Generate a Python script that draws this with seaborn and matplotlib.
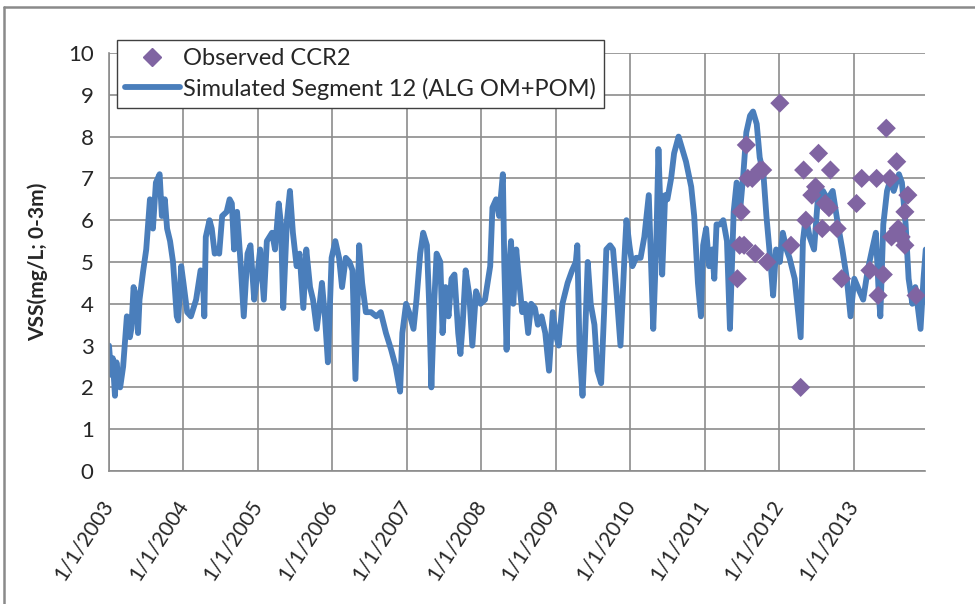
import pandas as pd
import matplotlib
matplotlib.use("Agg")
import matplotlib.pyplot as plt
from matplotlib.lines import Line2D
import seaborn as sns

# Simulated VSS, segment 12 (decimal year, mg/L)
sim_year = [
    2003.00, 2003.03, 2003.05, 2003.08, 2003.10, 2003.13, 2003.15, 2003.19, 2003.24, 2003.28,
    2003.30, 2003.33, 2003.36, 2003.39, 2003.41, 2003.46, 2003.50, 2003.55, 2003.57, 2003.59,
    2003.63, 2003.68, 2003.71, 2003.75, 2003.78, 2003.82, 2003.86, 2003.91, 2003.93, 2003.97,
    2004.00, 2004.05, 2004.10, 2004.17, 2004.23, 2004.26, 2004.28, 2004.30, 2004.35, 2004.38,
    2004.42, 2004.45, 2004.48, 2004.52, 2004.58, 2004.62, 2004.65, 2004.68, 2004.72, 2004.77,
    2004.81, 2004.86, 2004.90, 2004.95,
    2005.00, 2005.03, 2005.08, 2005.12, 2005.19, 2005.23, 2005.28, 2005.31, 2005.34, 2005.39,
    2005.43, 2005.47, 2005.52, 2005.56, 2005.61, 2005.65, 2005.70, 2005.74, 2005.79, 2005.83,
    2005.86, 2005.90, 2005.94, 2005.99, 2006.04, 2006.09, 2006.13, 2006.18, 2006.23, 2006.27,
    2006.31, 2006.36, 2006.40, 2006.45, 2006.52, 2006.59, 2006.65, 2006.72, 2006.79, 2006.85,
    2006.91, 2006.94, 2006.99,
    2007.03, 2007.09, 2007.13, 2007.18, 2007.22, 2007.27, 2007.30, 2007.33, 2007.37, 2007.40,
    2007.45, 2007.48, 2007.52, 2007.56, 2007.60, 2007.64, 2007.69, 2007.72, 2007.75, 2007.79,
    2007.84, 2007.88, 2007.93, 2007.99, 2008.05, 2008.12, 2008.15, 2008.20, 2008.24, 2008.29,
    2008.31, 2008.34, 2008.37, 2008.40, 2008.43, 2008.47, 2008.50, 2008.55, 2008.59, 2008.63,
    2008.67, 2008.72, 2008.76, 2008.81, 2008.86, 2008.91, 2008.96,
    2009.01, 2009.04, 2009.09, 2009.16, 2009.22, 2009.27, 2009.29, 2009.32, 2009.36, 2009.39,
    2009.43, 2009.47, 2009.52, 2009.56, 2009.61, 2009.65, 2009.68, 2009.73, 2009.77, 2009.82,
    2009.87, 2009.92, 2009.95, 2009.99, 2010.03, 2010.08, 2010.14, 2010.19, 2010.25, 2010.28,
    2010.31, 2010.35, 2010.38, 2010.40, 2010.43, 2010.47, 2010.50, 2010.55, 2010.59, 2010.65,
    2010.70, 2010.75, 2010.82, 2010.86, 2010.91, 2010.95, 2010.98, 2011.02, 2011.06,
    2011.10, 2011.13, 2011.16, 2011.21, 2011.25, 2011.30, 2011.34, 2011.39, 2011.43, 2011.48,
    2011.52, 2011.56, 2011.61, 2011.65, 2011.70, 2011.74, 2011.79, 2011.83, 2011.88, 2011.92,
    2011.96, 2012.01, 2012.05, 2012.10, 2012.14, 2012.21, 2012.25, 2012.29, 2012.32, 2012.36,
    2012.41, 2012.47, 2012.52, 2012.59, 2012.65, 2012.72, 2012.79, 2012.85, 2012.91, 2012.96,
    2013.01, 2013.08, 2013.13, 2013.19, 2013.25, 2013.30, 2013.34, 2013.36, 2013.40, 2013.45,
    2013.50, 2013.54, 2013.61, 2013.65, 2013.70, 2013.74, 2013.79, 2013.83, 2013.90, 2013.94,
    2013.97,
]
sim_vss = [
    3.0, 2.3, 2.7, 1.8, 2.6, 2.1, 2.0, 2.5, 3.7, 3.2,
    3.4, 4.4, 4.2, 3.3, 4.1, 4.8, 5.3, 6.5, 6.0, 5.8,
    6.9, 7.1, 6.1, 6.5, 5.8, 5.5, 5.0, 3.7, 3.6, 4.9,
    4.5, 3.8, 3.7, 4.1, 4.8, 4.7, 3.7, 5.6, 6.0, 5.8,
    5.2, 5.3, 5.2, 6.1, 6.2, 6.5, 6.4, 5.3, 6.2, 4.9,
    3.7, 5.2, 5.4, 4.1,
    4.8, 5.3, 4.1, 5.5, 5.7, 5.3, 6.4, 5.9, 3.9, 6.0,
    6.7, 5.7, 4.9, 5.2, 3.9, 5.3, 4.4, 4.1, 3.4, 4.0,
    4.5, 3.7, 2.6, 5.1, 5.5, 5.1, 4.4, 5.1, 5.0, 4.8,
    2.2, 5.4, 4.5, 3.8, 3.8, 3.7, 3.8, 3.3, 2.9, 2.5,
    1.9, 3.3, 4.0,
    3.8, 3.4, 4.1, 5.2, 5.7, 5.4, 4.0, 2.0, 4.1, 5.2,
    5.0, 3.3, 4.4, 3.7, 4.6, 4.7, 3.3, 2.8, 3.5, 4.8,
    4.2, 3.0, 4.3, 4.0, 4.1, 4.9, 6.3, 6.5, 6.1, 7.1,
    4.9, 2.9, 4.8, 5.5, 4.0, 5.3, 4.7, 3.8, 4.0, 3.3,
    4.0, 3.9, 3.5, 3.7, 3.3, 2.4, 3.8,
    3.2, 3.0, 4.0, 4.5, 4.8, 5.0, 5.4, 2.9, 1.8, 3.0,
    5.0, 4.0, 3.5, 2.4, 2.1, 3.8, 5.3, 5.4, 5.3, 4.2,
    3.0, 5.0, 6.0, 5.4, 4.9, 5.1, 5.1, 5.6, 6.6, 5.0,
    3.4, 5.4, 7.7, 6.6, 4.7, 6.6, 6.5, 7.0, 7.6, 8.0,
    7.7, 7.4, 6.8, 6.1, 4.5, 3.7, 5.4, 5.8, 4.9,
    5.3, 4.6, 5.9, 5.9, 6.0, 5.5, 3.4, 6.2, 6.9, 6.3,
    7.1, 8.1, 8.5, 8.6, 8.3, 7.5, 7.1, 6.1, 5.1, 4.2,
    5.3, 5.0, 5.7, 5.3, 5.1, 4.6, 3.9, 3.2, 5.5, 6.1,
    5.6, 5.3, 6.5, 6.7, 6.5, 6.7, 5.9, 5.3, 4.6, 3.7,
    4.6, 4.3, 4.1, 4.8, 5.3, 5.7, 4.2, 3.7, 5.9, 6.7,
    7.0, 6.7, 7.1, 6.9, 5.9, 4.6, 4.0, 4.4, 3.4, 4.6,
    5.3,
]

# Observed CCR2
obs_year = [
    2011.44, 2011.47, 2011.49, 2011.53, 2011.56, 2011.58, 2011.64, 2011.68, 2011.74, 2011.78,
    2011.84, 2012.01, 2012.16, 2012.29, 2012.33, 2012.36, 2012.44, 2012.49, 2012.53, 2012.58,
    2012.62, 2012.67, 2012.69, 2012.78, 2012.84, 2013.04, 2013.11, 2013.22, 2013.31, 2013.33,
    2013.40, 2013.44, 2013.49, 2013.51, 2013.58, 2013.60, 2013.64, 2013.69, 2013.69, 2013.73,
    2013.84,
]
obs_vss = [
    4.6, 5.4, 6.2, 5.4, 7.8, 7.0, 7.0, 5.2, 7.2, 7.2,
    5.0, 8.8, 5.4, 2.0, 7.2, 6.0, 6.6, 6.8, 7.6, 5.8,
    6.4, 6.3, 7.2, 5.8, 4.6, 6.4, 7.0, 4.8, 7.0, 4.2,
    4.7, 8.2, 7.0, 5.6, 7.4, 5.8, 5.6, 6.2, 5.4, 6.6,
    4.2,
]

tick_years = [2003, 2004, 2005, 2006, 2007, 2008, 2009, 2010, 2011, 2012, 2013]
tick_labels = ["1/1/2003", "1/1/2004", "1/1/2005", "1/1/2006", "1/1/2007", "1/1/2008",
               "1/1/2009", "1/1/2010", "1/1/2011", "1/1/2012", "1/1/2013"]

BLUE = "#4A7EBB"
PURPLE = "#8064A2"
GRID = "#8c8c8c"

sns.set_style("white")
plt.rcParams["font.family"] = ["Lato", "DejaVu Sans"]

sim = pd.DataFrame({"year": sim_year, "vss": sim_vss})
obs = pd.DataFrame({"year": obs_year, "vss": obs_vss})

fig = plt.figure(figsize=(9.75, 6.04), dpi=100)
ax = fig.add_axes([109 / 975, 1 - 471 / 604, 816 / 975, 418 / 604])

sns.lineplot(data=sim, x="year", y="vss", ax=ax, color=BLUE, lw=4.2, sort=False,
             estimator=None, zorder=2, solid_joinstyle="round", solid_capstyle="round")
sns.scatterplot(data=obs, x="year", y="vss", ax=ax, marker="D", s=95, color=PURPLE,
                edgecolor="none", zorder=3)

ax.set_xlim(2003, 2013.96)
ax.set_ylim(0, 10)
ax.set_yticks(range(0, 11))
ax.set_xticks(tick_years)
ax.set_xticklabels(tick_labels, rotation=57, ha="right", va="center",
                   rotation_mode="anchor")
ax.set_xlabel("")
ax.set_ylabel("")
ax.grid(True, color=GRID, lw=1.2)
ax.set_axisbelow(True)
for side in ["top", "right"]:
    ax.spines[side].set_visible(False)
for side in ["left", "bottom"]:
    ax.spines[side].set_color(GRID)
    ax.spines[side].set_linewidth(1.2)
ax.tick_params(axis="y", length=5, color=GRID, width=1.2, labelsize=16, pad=6)
ax.tick_params(axis="x", length=6, color=GRID, width=1.2, labelsize=15, pad=16)

fig.text(38 / 975, 1 - 262 / 604, "VSS(mg/L; 0-3m)", rotation=90, ha="center",
         va="center", fontsize=15, fontweight="bold")

handles = [
    Line2D([], [], marker="D", ls="none", color=PURPLE, markersize=9),
    Line2D([], [], color=BLUE, lw=4.2),
]
labels = ["Observed CCR2", "Simulated Segment 12 (ALG OM+POM)"]
leg = fig.legend(handles, labels, loc="upper left",
                 bbox_to_anchor=(117 / 975, 1 - 40 / 604), fontsize=17,
                 frameon=True, fancybox=False, handlelength=2.3,
                 handletextpad=0.15, borderpad=0.35, labelspacing=0.35,
                 borderaxespad=0)
leg.get_frame().set_edgecolor("#404040")
leg.get_frame().set_linewidth(1.0)
leg.get_frame().set_alpha(1)

# outer chart border (top and left edges visible)
fig.add_artist(Line2D([4 / 975, 1], [1 - 7 / 604, 1 - 7 / 604], color="#8a8a8a", lw=1.8))
fig.add_artist(Line2D([4 / 975, 4 / 975], [0, 1 - 7 / 604], color="#8a8a8a", lw=1.8))

fig.savefig("out.png", dpi=100)
